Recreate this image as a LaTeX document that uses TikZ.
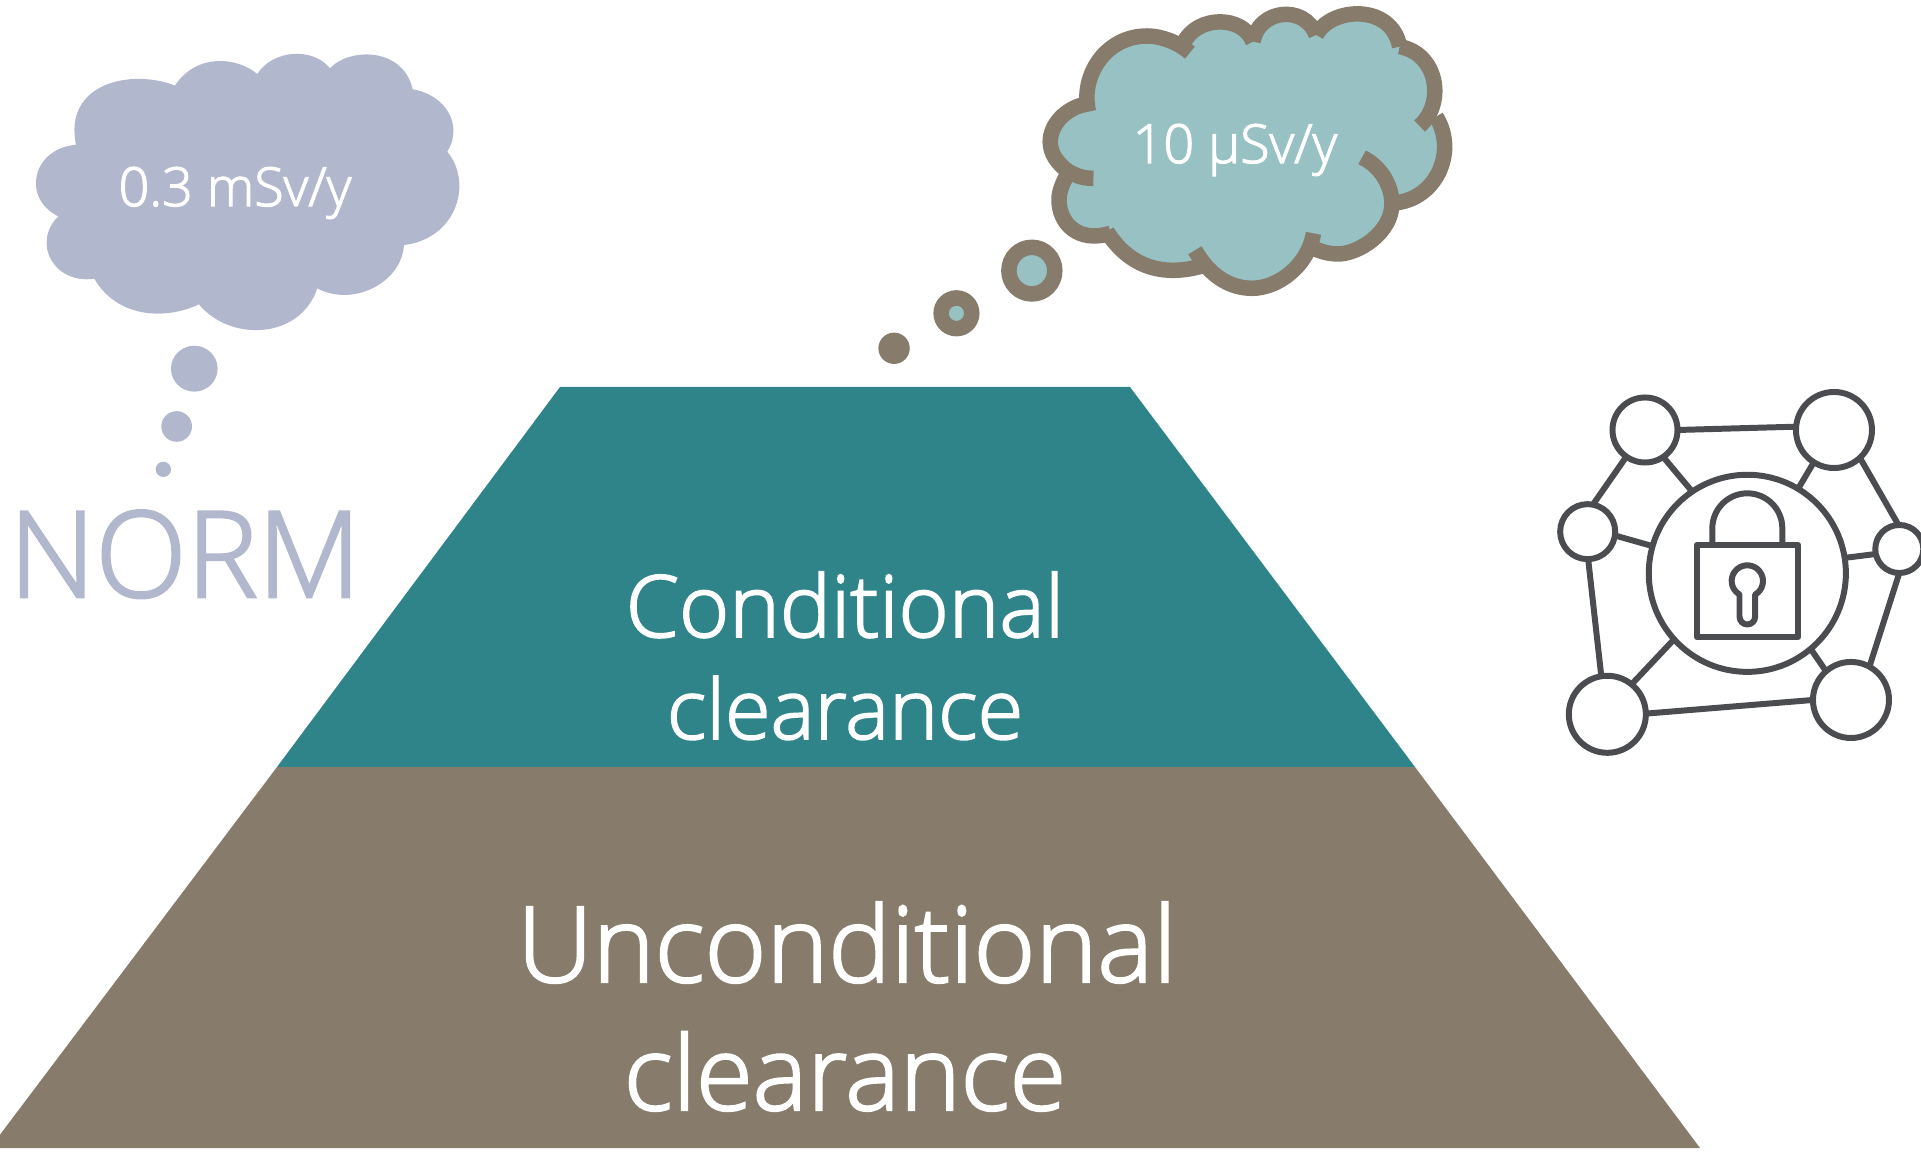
\documentclass[tikz,border=0pt]{standalone}
\usepackage{fontspec}
\setmainfont{Open Sans}[UprightFont=* Light,UprightFeatures={FakeBold=2.2}]
\definecolor{tealdark}{HTML}{2F8489}
\definecolor{taupe}{HTML}{877C6C}
\definecolor{bluegrey}{HTML}{B1B8CE}
\definecolor{teallight}{HTML}{97C1C3}
\definecolor{iconline}{HTML}{4A4C50}
\begin{document}
\begin{tikzpicture}[x=.01cm,y=-.01cm,
  say/.style={white,anchor=base,inner sep=0},
  lobe/.style={taupe,line width=15.5*.01cm},
  icon/.style={iconline,line width=1.7pt},
  hub/.style={icon,draw,circle,inner sep=0,outer sep=0}]
\useasboundingbox(0,0)rectangle(1921,1152);

\fill[tealdark](560,387)--(1130,387)--(1415,767)--(277,767)--cycle;
\fill[taupe](277,767)--(1415,767)--(1700,1148)--(-10,1148)--cycle;
\node[say,font=\fontsize{24.4}{29}\selectfont](upper)at(845,637){Conditional};
\node[say,font=\fontsize{23.6}{29}\selectfont](upperb)at(845,739){clearance};
\node[say,font=\fontsize{29.9}{36}\selectfont](lower)at(847,982){Unconditional};
\node[say,font=\fontsize{29.3}{36}\selectfont](lowerb)at(845,1110){clearance};

% norm cloud
\begin{scope}[shift={(0,30)},xscale=.3333,yscale=.3827]
\fill[bluegrey](228,300)..controls(190,140)and(390,100)..(525,145)
  ..controls(590,60)and(710,70)..(772,115)
  ..controls(820,50)and(940,45)..(990,100)
  ..controls(1050,45)and(1210,45)..(1238,155)
  ..controls(1340,170)and(1390,250)..(1342,318)
  ..controls(1420,400)and(1370,545)..(1212,562)
  ..controls(1205,660)and(1060,725)..(952,675)
  ..controls(900,810)and(690,815)..(597,717)
  ..controls(490,760)and(350,750)..(283,650)
  ..controls(160,665)and(95,555)..(175,487)
  ..controls(65,440)and(95,310)..(228,300)--cycle;
\fill[bluegrey](583,885)ellipse[x radius=70,y radius=60];
\fill[bluegrey](530,1036)ellipse[x radius=46,y radius=40];
\fill[bluegrey](490,1148)ellipse[x radius=23,y radius=20];
\end{scope}
\node[say,font=\fontsize{15.3}{18}\selectfont](normdose)at(235,206){0.3 mSv/y};
\node[say,bluegrey,font=\fontsize{34}{40}\selectfont](norm)at(185,597){NORM};

% limit cloud
\begin{scope}[shift={(860,0)},xscale=.3827,yscale=.3333]
\fill[teallight](597,335)..controls(575,230)and(640,108)..(750,108)
  ..controls(790,108)and(835,130)..(862,158)
  --(845,130)..controls(880,45)and(1000,45)..(1027,125)
  ..controls(1040,30)and(1160,10)..(1192,105)
  ..controls(1230,20)and(1390,10)..(1410,140)
  ..controls(1510,160)and(1530,310)..(1505,350)
  ..controls(1560,450)and(1510,590)..(1405,608)
  --(1390,610)..controls(1390,700)and(1300,762)..(1250,762)
  ..controls(1225,762)and(1205,755)..(1185,745)
  ..controls(1170,800)and(1090,865)..(1025,865)
  ..controls(960,865)and(930,820)..(915,790)
  ..controls(830,825)and(720,830)..(645,700)
  --(650,703)..controls(570,730)and(520,670)..(520,600)
  ..controls(520,570)and(530,550)..(545,515)
  ..controls(515,490)and(497,460)..(497,425)
  ..controls(497,380)and(530,325)..(597,310)--cycle;
\draw[lobe](597,335)..controls(575,230)and(640,108)..(750,108)
  ..controls(790,108)and(835,130)..(862,158);
\draw[lobe](845,130)..controls(880,45)and(1000,45)..(1027,125);
\draw[lobe](1027,125)..controls(1040,30)and(1160,10)..(1192,105);
\draw[lobe](1192,105)..controls(1230,20)and(1390,10)..(1410,140);
\draw[lobe](1410,140)..controls(1510,160)and(1530,310)..(1462,378);
\draw[lobe](1505,350)..controls(1560,450)and(1510,590)..(1405,608);
\draw[lobe](1312,472)..controls(1370,505)and(1390,570)..(1390,610)
  ..controls(1390,700)and(1300,762)..(1250,762)
  ..controls(1225,762)and(1205,755)..(1185,745);
\draw[lobe](1185,700)..controls(1170,800)and(1090,865)..(1025,865)
  ..controls(960,865)and(910,820)..(875,751);
\draw[lobe](915,790)..controls(830,825)and(720,830)..(645,695);
\draw[lobe](655,700)..controls(570,730)and(520,670)..(520,600)
  ..controls(520,570)and(530,550)..(545,515);
\draw[lobe](610,535)..controls(585,535)and(570,530)..(545,515)
  ..controls(515,490)and(497,460)..(497,425)
  ..controls(497,380)and(530,325)..(597,310);
\draw[lobe,fill=teallight](449,812)ellipse[x radius=60,y radius=70];
\draw[lobe,fill=teallight](252,940)ellipse[x radius=40,y radius=46];
\fill[taupe](89,1045)ellipse[x radius=41,y radius=47];
\end{scope}
\node[say,font=\fontsize{15.3}{18}\selectfont](limitdose)at(1235,163){10 µSv/y};

% lock network
\begin{scope}[shift={(1540,380)},scale=.3333]
\node[hub,minimum size=1.97cm](core)at(622,580){};
\node[hub,minimum size=.65cm](n1)at(315,150){};
\node[hub,minimum size=.76cm](n2)at(882,150){};
\node[hub,minimum size=.55cm](n3)at(143,455){};
\node[hub,minimum size=.48cm](n4)at(1078,507){};
\node[hub,minimum size=.77cm](n5)at(202,1003){};
\node[hub,minimum size=.76cm](n6)at(933,960){};
\draw[icon](n1.0)--(n2.175);
\draw[icon](n1.-125)--(n3.79);
\draw[icon](n1.-56)--(core.124);
\draw[icon](n2.-122)--(core.59);
\draw[icon](n2.-47)--(n4.92);
\draw[icon](n3.-8)--(core.164);
\draw[icon](n3.-89)--(n5.99);
\draw[icon](n4.192)--(core.9);
\draw[icon](n4.-90)--(n6.61);
\draw[icon](n5.51)--(core.-138);
\draw[icon](n5.1)--(n6.180);
\draw[icon](n6.131)--(core.-50);
\draw[icon,line join=round](470,495)rectangle(775,772);
\draw[icon](517,495)--(517,445)arc[start angle=180,end angle=360,radius=105]--(727,495);
\draw[icon,line join=round](645.5,643.7)arc[start angle=60,end angle=-240,radius=47]
  --(598.5,710)arc[start angle=180,end angle=0,radius=23.5]--cycle;
\end{scope}
\end{tikzpicture}
\end{document}
